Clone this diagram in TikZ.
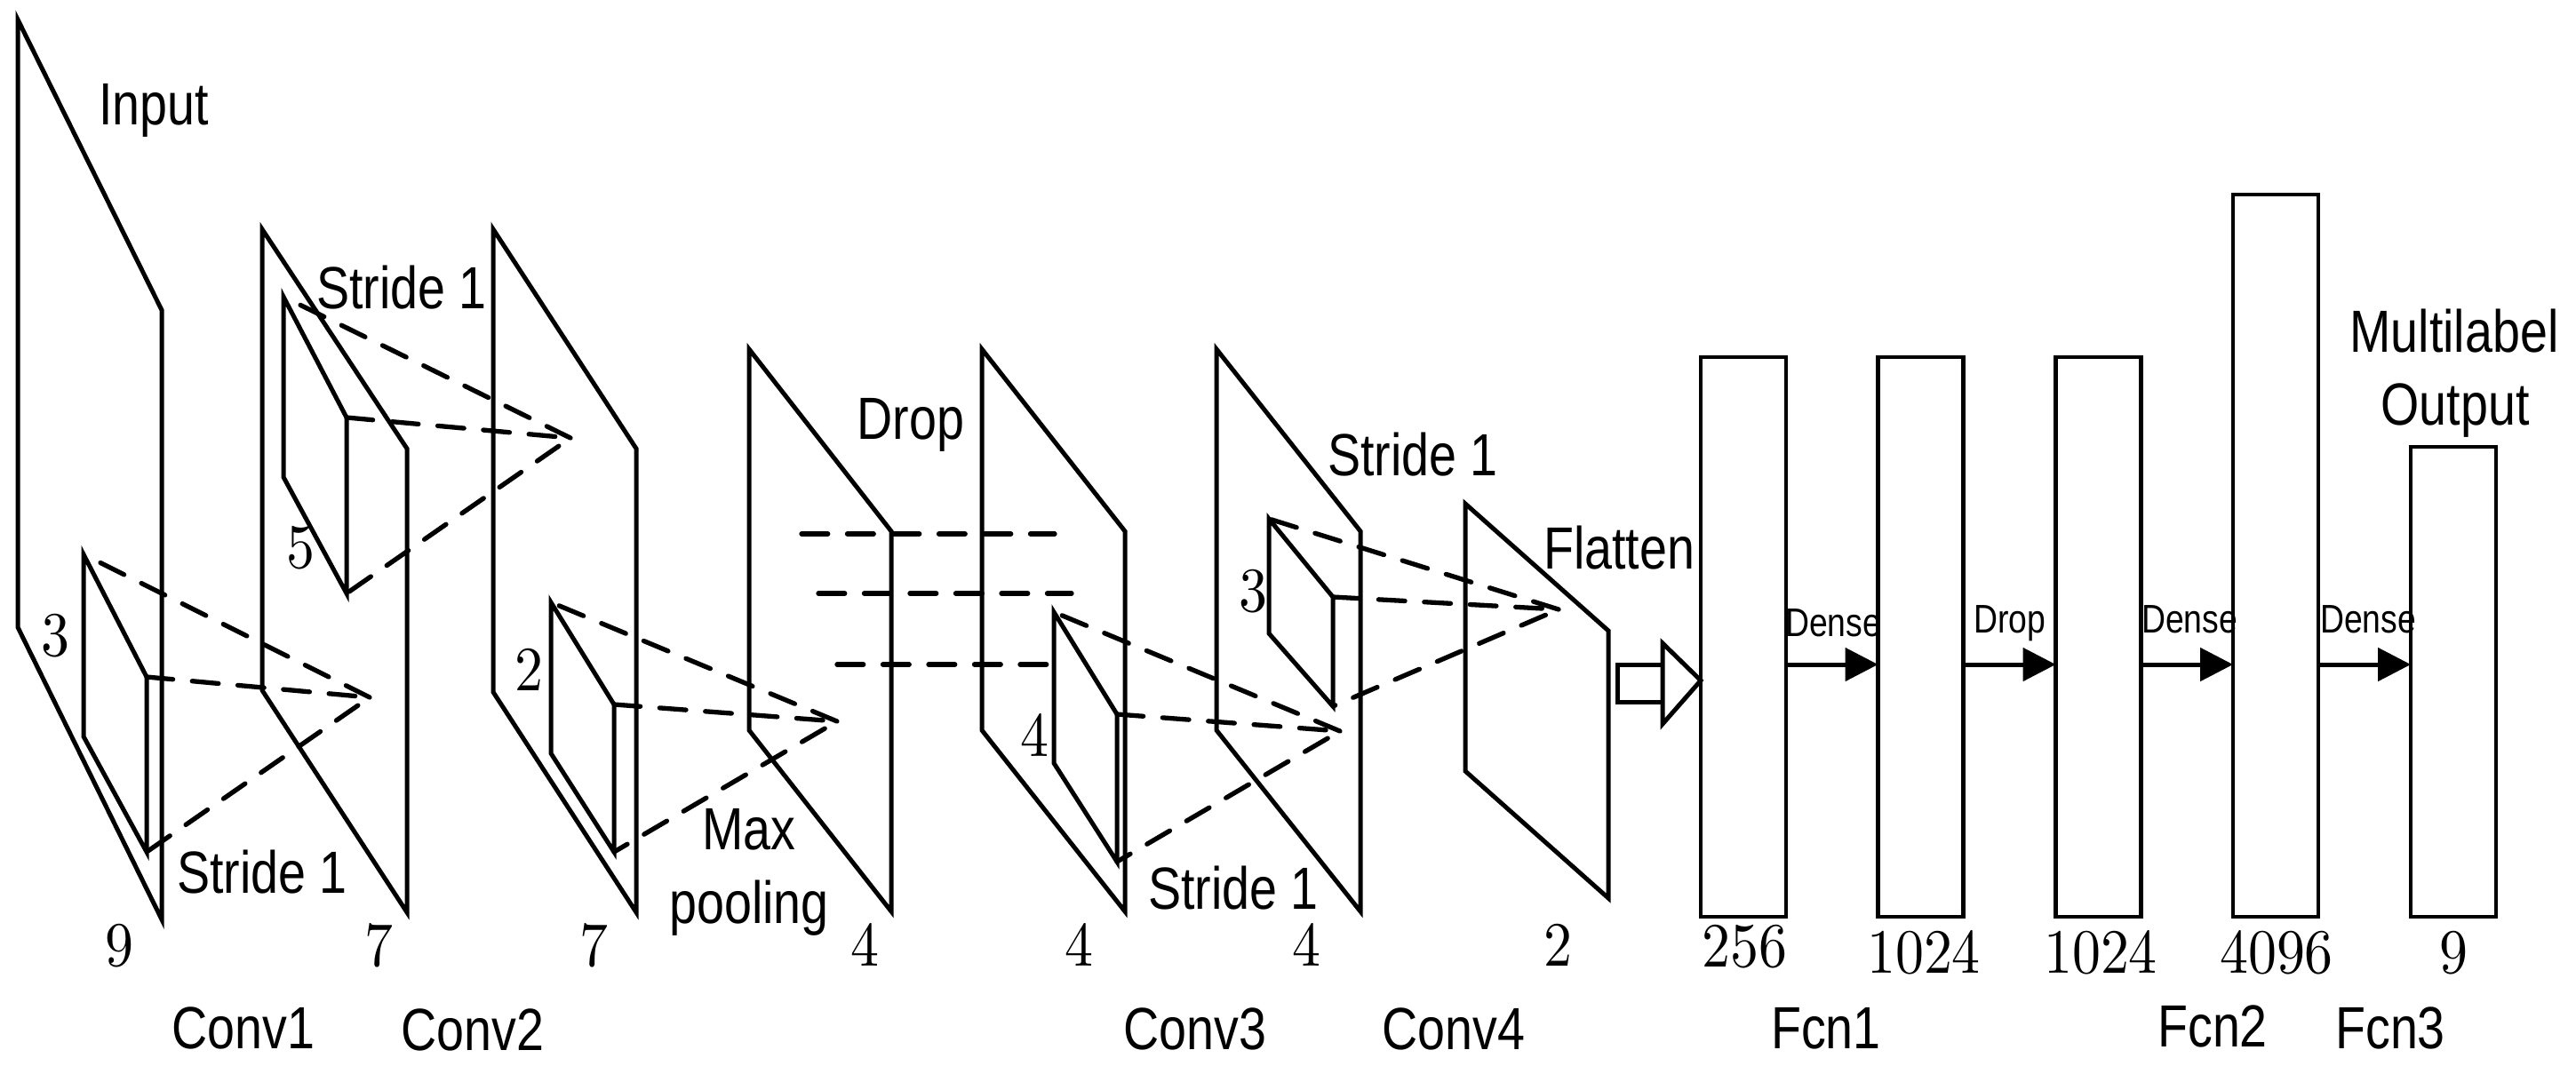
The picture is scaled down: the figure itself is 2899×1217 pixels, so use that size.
\documentclass[tikz,border=0pt]{standalone}
\usepackage{fontspec}
\usepackage{tikz}
\usetikzlibrary{arrows.meta,positioning,calc}
\newfontfamily\labelfont[FakeStretch=0.83]{Liberation Sans}
\newfontfamily\digitfont[FakeStretch=0.9]{lmroman10-regular.otf}
\tikzset{
  edgeline/.style={line width=2.5pt,line join=miter,miter limit=20},
  dashline/.style={line width=2.65pt,line cap=round,dash pattern=on 14.85pt off 10.9pt},
  fcnbox/.style={draw,line width=2.3pt,minimum width=48pt,outer sep=0pt,anchor=south,inner sep=0pt},
  denseline/.style={line width=2.5pt,-{Triangle[length=18.5pt,width=18.5pt]}},
  biglabel/.style={font=\labelfont\fontsize{33.5pt}{36pt}\selectfont,anchor=base,inner sep=0pt},
  smalllabel/.style={font=\labelfont\fontsize{22.5pt}{24pt}\selectfont,anchor=base,inner sep=0pt},
  sizelabel/.style={font=\digitfont\fontsize{35.5pt}{38pt}\selectfont,anchor=base,inner sep=0pt}
}
\newcommand{\layerplane}[7]{
  \coordinate (#1-tl) at (#2,#4);
  \coordinate (#1-tr) at (#3,#5);
  \coordinate (#1-bl) at (#2,#6);
  \coordinate (#1-br) at (#3,#7);
  \draw[edgeline] (#1-tl) -- (#1-tr) -- (#1-br) -- (#1-bl) -- cycle;
}
\newcommand{\kernelblock}[9]{
  \coordinate (#1-tl) at (#2,#4);
  \coordinate (#1-bl) at (#2,#5);
  \coordinate (#1-tr) at (#3,#6);
  \coordinate (#1-br) at (#3,#7);
  \coordinate (#1-apex) at (#8,#9);
  \draw[edgeline] (#1-tl) -- (#1-tr) -- (#1-br) -- (#1-bl) -- cycle;
  \draw[dashline] (#1-apex) -- (#1-tl);
  \draw[dashline] (#1-tr) -- (#1-apex);
  \draw[dashline] ($(#1-apex)!8pt!(#1-br)$) -- (#1-br);
}
\begin{document}
\begin{tikzpicture}[x=0.5pt,y=-0.5pt]
  \useasboundingbox (0,0) rectangle (2899,1217);

  \layerplane{input}{20}{182}{22}{349}{706}{1035}
  \layerplane{conva}{295}{458}{258}{505}{777}{1027}
  \layerplane{convb}{555}{716}{258}{505}{779}{1027}
  \layerplane{pool}{843}{1003}{393}{598}{822}{1026}
  \layerplane{drop}{1105}{1266}{393}{598}{822}{1026}
  \layerplane{convc}{1369}{1531}{393}{598}{822}{1026}
  \layerplane{convd}{1649}{1810}{567}{710}{868}{1011}

  \kernelblock{ka}{94}{165}{624}{829}{762}{959}{416}{785}
  \kernelblock{kb}{319}{390}{334}{537}{470}{668}{642}{493}
  \kernelblock{kc}{620}{691}{678}{848}{793}{959}{942}{812}
  \kernelblock{kd}{1186}{1257}{689}{859}{804}{970}{1508}{823}
  \kernelblock{ke}{1428}{1500}{584}{713}{672}{795}{1754}{686}

  \coordinate (dropa-s) at (902,601);
  \coordinate (dropa-e) at (1187,601);
  \coordinate (dropb-s) at (921,668);
  \coordinate (dropb-e) at (1206,668);
  \coordinate (dropc-s) at (942,748);
  \draw[dashline] (dropa-s) -- (dropa-e);
  \draw[dashline] (dropb-s) -- (dropb-e);
  \draw[dashline] (dropc-s) -- (kd-tl |- dropc-s);

  \node[fcnbox,minimum height=315pt] (fcna) at (1962,1032) {};
  \node[fcnbox,minimum height=315pt] (fcnb) at (2161.5,1032) {};
  \node[fcnbox,minimum height=315pt] (fcnc) at (2361.5,1032) {};
  \node[fcnbox,minimum height=406.5pt] (fcnd) at (2561,1032) {};
  \node[fcnbox,minimum height=264.5pt] (fcne) at (2761,1032) {};

  \coordinate (densey) at (0,748);
  \coordinate (flaty) at (0,766);
  \draw[denseline] (fcna.east |- densey) -- (fcnb.west |- densey);
  \draw[denseline] (fcnb.east |- densey) -- (fcnc.west |- densey);
  \draw[denseline] (fcnc.east |- densey) -- (fcnd.west |- densey);
  \draw[denseline] (fcnd.east |- densey) -- (fcne.west |- densey);

  \coordinate (flathead) at (1871,724);
  \coordinate (flatfoot) at (1871,815);
  \coordinate (flatup) at (1871,748);
  \coordinate (flatlow) at (1871,790);
  \draw[edgeline] (flatup) -- (1820,748) -- (1820,790) -- (flatlow);
  \draw[edgeline] (flathead) -- (fcna.west |- flaty) -- (flatfoot) -- cycle;

  \node[biglabel] (inputlabel) at (173,140) {Input};
  \node[biglabel] (stridea) at (452,347) {Stride 1};
  \node[biglabel] (strideb) at (295,1005) {Stride 1};
  \node[biglabel] (stridec) at (1590,535) {Stride 1};
  \node[biglabel] (strided) at (1388,1023) {Stride 1};
  \node[biglabel] (maxlabel) at (843,956) {Max};
  \node[biglabel] (poollabel) at (843,1039) {pooling};
  \node[biglabel] (droplabel) at (1025,494) {Drop};
  \node[biglabel] (flatlabel) at (1822,640) {Flatten};
  \node[biglabel] (multilabel) at (2762,396) {Multilabel};
  \node[biglabel] (outputlabel) at (2763,478) {Output};
  \node[biglabel] (convalabel) at (274,1180) {Conv1};
  \node[biglabel] (convblabel) at (532,1182) {Conv2};
  \node[biglabel] (convclabel) at (1345,1181) {Conv3};
  \node[biglabel] (convdlabel) at (1636,1181) {Conv4};
  \node[biglabel] (fcnalabel) at (2055,1180) {Fcn1};
  \node[biglabel] (fcnblabel) at (2490,1178) {Fcn2};
  \node[biglabel] (fcnclabel) at (2690,1180) {Fcn3};

  \node[smalllabel] (densea) at (2063,716) {Dense};
  \node[smalllabel] (dropsmall) at (2262,712) {Drop};
  \node[smalllabel] (denseb) at (2464,712) {Dense};
  \node[smalllabel] (densec) at (2665,712) {Dense};

  \node[sizelabel] (sizea) at (62,738) {3};
  \node[sizelabel] (sizeb) at (338,639) {5};
  \node[sizelabel] (sizec) at (595,777) {2};
  \node[sizelabel] (sized) at (1164,851) {4};
  \node[sizelabel] (sizee) at (1410,688) {3};
  \node[sizelabel] (outa) at (134,1087) {9};
  \node[sizelabel] (outb) at (426,1087) {7};
  \node[sizelabel] (outc) at (668,1087) {7};
  \node[sizelabel] (outd) at (973,1087) {4};
  \node[sizelabel] (oute) at (1214,1087) {4};
  \node[sizelabel] (outf) at (1470,1087) {4};
  \node[sizelabel] (outg) at (1753,1087) {2};
  \node[sizelabel] (outh) at (1963,1088) {256};
  \node[sizelabel] (outi) at (2165,1095) {1024};
  \node[sizelabel] (outj) at (2364,1095) {1024};
  \node[sizelabel] (outk) at (2562,1095) {4096};
  \node[sizelabel] (outl) at (2761,1095) {9};
\end{tikzpicture}
\end{document}
